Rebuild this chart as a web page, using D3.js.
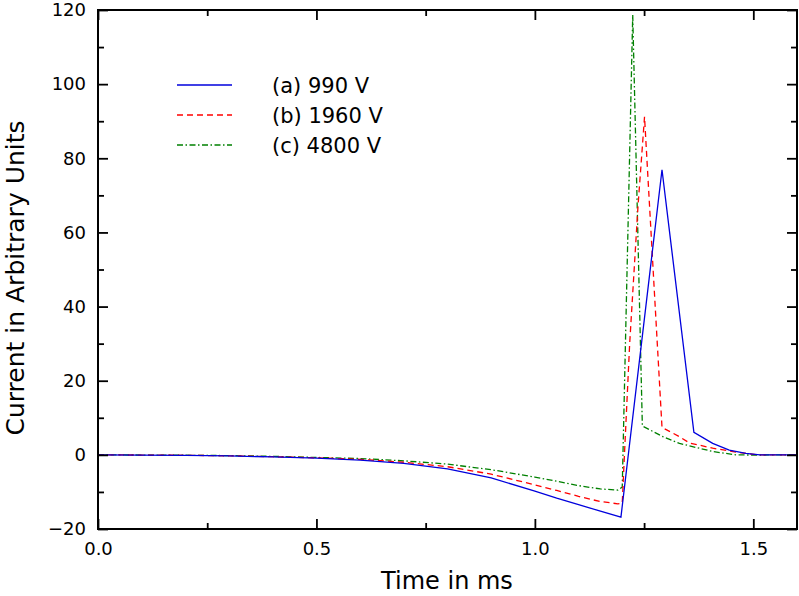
<!DOCTYPE html>
<html>
<head>
<meta charset="utf-8">
<script src="https://cdn.jsdelivr.net/npm/d3@7"></script>
<style>
body { margin: 0; background: #fff; }
svg { display: block; }
text { font-family: "DejaVu Sans", Verdana, sans-serif; fill: #000; }
</style>
</head>
<body>
<svg id="chart" width="799" height="596"></svg>
<script>
// ---- data ----
const seriesNames = ["(a) 990 V", "(b) 1960 V", "(c) 4800 V"];
const timeA = [0, 0.1, 0.2, 0.3, 0.4, 0.5, 0.6, 0.7, 0.8, 0.9, 1.0, 1.05, 1.1, 1.15, 1.197, 1.291, 1.364, 1.407, 1.445, 1.483, 1.515, 1.6];
const currentA = [0, -0.05, -0.15, -0.3, -0.55, -0.9, -1.4, -2.3, -3.8, -6.2, -9.8, -11.7, -13.4, -15.2, -16.8, 76.9, 6.1, 3.1, 1.3, 0.4, 0, 0];
const timeB = [0, 0.1, 0.2, 0.3, 0.4, 0.5, 0.6, 0.7, 0.8, 0.9, 1.0, 1.05, 1.1, 1.15, 1.19, 1.2, 1.205, 1.217, 1.236, 1.251, 1.291, 1.331, 1.354, 1.407, 1.468, 1.51, 1.6];
const currentB = [0, -0.05, -0.12, -0.25, -0.5, -0.8, -1.2, -2.0, -3.2, -5.2, -8.1, -9.6, -11.2, -12.6, -13.2, -13.0, 0, 30, 67, 91.2, 7.4, 4.9, 3.2, 1.8, 0.6, 0, 0];
const timeC = [0, 0.1, 0.2, 0.3, 0.4, 0.5, 0.6, 0.7, 0.8, 0.9, 1.0, 1.05, 1.1, 1.15, 1.19, 1.2, 1.224, 1.246, 1.293, 1.331, 1.407, 1.46, 1.5, 1.6];
const currentC = [0, -0.05, -0.1, -0.2, -0.4, -0.7, -1.0, -1.6, -2.5, -4.0, -6.0, -7.1, -8.3, -9.2, -9.5, -8.7, 118.7, 7.8, 4.9, 3.1, 0.9, 0, -0.05, 0];
const xMajorTicks = [0, 0.5, 1.0, 1.5];
const xMinorTicks = [0.25, 0.75, 1.25];
const yMajorTicks = [-20, 0, 20, 40, 60, 80, 100, 120];
const yMinorTicks = [-10, 10, 30, 50, 70, 90, 110];
const xTitle = "Time in ms";
const yTitle = "Current in Arbitrary Units";

// ---- layout ----
const pL = 98, pR = 797, pT = 10, pB = 529;
const svg = d3.select("#chart");
const x = d3.scaleLinear().domain([0, 1.6]).range([pL, pR]);
const y = d3.scaleLinear().domain([-20, 120]).range([pB, pT]);

const styles = [
  { color: "#0000dd", dash: null },
  { color: "#ff0000", dash: "6,4" },
  { color: "#008000", dash: "6,2.5,1.5,2.5" }
];
const series = [
  timeA.map((t, i) => [t, currentA[i]]),
  timeB.map((t, i) => [t, currentB[i]]),
  timeC.map((t, i) => [t, currentC[i]])
];

const line = d3.line().x(d => x(d[0])).y(d => y(d[1]));
svg.append("clipPath").attr("id", "clip").append("rect")
  .attr("x", pL).attr("y", pT).attr("width", pR - pL).attr("height", pB - pT);

const plot = svg.append("g").attr("clip-path", "url(#clip)");
[2, 1, 0].forEach(i => {
  plot.append("path").datum(series[i])
    .attr("d", line)
    .attr("fill", "none")
    .attr("stroke", styles[i].color)
    .attr("stroke-width", 1.3)
    .attr("stroke-dasharray", styles[i].dash);
});

// axes (inward ticks)
function styleAxis(g) {
  g.select(".domain").remove();
  g.selectAll(".tick line").attr("stroke", "#000").attr("stroke-width", 1.8);
}
svg.append("g").attr("transform", `translate(0,${pB})`)
  .call(d3.axisBottom(x).tickValues(xMajorTicks).tickSize(-10).tickPadding(13).tickFormat(d3.format(".1f")))
  .call(styleAxis)
  .call(g => g.selectAll("text").attr("font-size", 18).attr("font-family", "DejaVu Sans"));
svg.append("g").attr("transform", `translate(0,${pB})`)
  .call(d3.axisBottom(x).tickValues(xMinorTicks).tickSize(-6).tickFormat(""))
  .call(styleAxis);
svg.append("g").attr("transform", `translate(0,${pT})`)
  .call(d3.axisTop(x).tickValues(xMajorTicks).tickSize(-10).tickFormat(""))
  .call(styleAxis);
svg.append("g").attr("transform", `translate(0,${pT})`)
  .call(d3.axisTop(x).tickValues(xMinorTicks).tickSize(-6).tickFormat(""))
  .call(styleAxis);
svg.append("g").attr("transform", `translate(${pL},0)`)
  .call(d3.axisLeft(y).tickValues(yMajorTicks).tickSize(-10).tickPadding(12).tickFormat(d3.format("d")))
  .call(styleAxis)
  .call(g => g.selectAll("text").attr("font-size", 18).attr("font-family", "DejaVu Sans"));
svg.append("g").attr("transform", `translate(${pL},0)`)
  .call(d3.axisLeft(y).tickValues(yMinorTicks).tickSize(-6).tickFormat(""))
  .call(styleAxis);
svg.append("g").attr("transform", `translate(${pR},0)`)
  .call(d3.axisRight(y).tickValues(yMajorTicks).tickSize(-10).tickFormat(""))
  .call(styleAxis);
svg.append("g").attr("transform", `translate(${pR},0)`)
  .call(d3.axisRight(y).tickValues(yMinorTicks).tickSize(-6).tickFormat(""))
  .call(styleAxis);

// frame
svg.append("rect").attr("x", pL).attr("y", pT).attr("width", pR - pL).attr("height", pB - pT)
  .attr("fill", "none").attr("stroke", "#000").attr("stroke-width", 2);

// titles
svg.append("text").attr("x", 447).attr("y", 589).attr("text-anchor", "middle")
  .attr("font-size", 24).text(xTitle);
svg.append("text").attr("transform", "translate(24,278) rotate(-90)").attr("text-anchor", "middle")
  .attr("font-size", 25).text(yTitle);

// legend
const legendY = [85, 115, 145];
const lg = svg.append("g");
seriesNames.forEach((name, i) => {
  lg.append("line").attr("x1", 177).attr("x2", 232).attr("y1", legendY[i]).attr("y2", legendY[i])
    .attr("stroke", styles[i].color).attr("stroke-width", 1.3).attr("stroke-dasharray", styles[i].dash);
  lg.append("text").attr("x", 272).attr("y", legendY[i]).attr("dy", "0.36em")
    .attr("font-size", 21).text(name);
});
</script>
</body>
</html>
